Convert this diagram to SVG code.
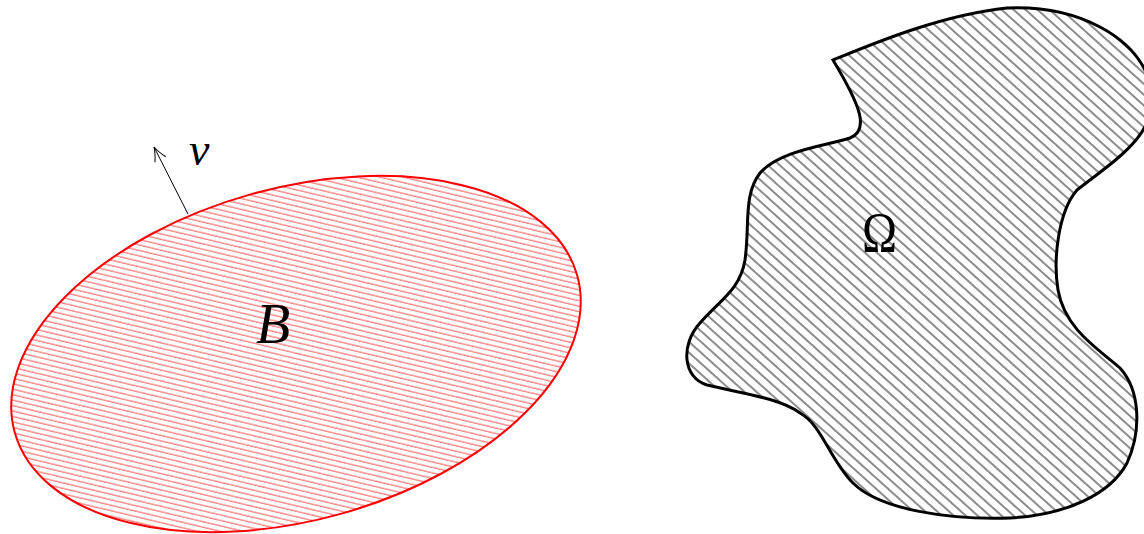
<svg xmlns="http://www.w3.org/2000/svg" width="1144" height="534" viewBox="0 0 1144 534">
<style>
.lbl{font-family:"Liberation Serif","Times New Roman",serif;fill:#000}
.it{font-style:italic}
</style>
<defs>
<pattern id="hatchRed" width="10" height="5.3" patternUnits="userSpaceOnUse" patternTransform="rotate(29)">
<line x1="0" y1="1" x2="10" y2="1" stroke="#ff0000" stroke-width="0.9" stroke-opacity="0.75"/>
</pattern>
<pattern id="hatchBlack" width="10" height="8" patternUnits="userSpaceOnUse" patternTransform="rotate(42)">
<line x1="0" y1="1" x2="10" y2="1" stroke="#000" stroke-width="1" stroke-opacity="0.9"/>
</pattern>
<marker id="arrowOpen" markerUnits="userSpaceOnUse" viewBox="-15 -8 17 16" refX="0" refY="0" markerWidth="17" markerHeight="16" orient="auto">
<path d="M -14 -6 Q -6 -1.5 0 0 Q -6 1.5 -14 6" fill="none" stroke="#000" stroke-width="1"/>
</marker>
</defs>
<g id="nodeB">
<ellipse cx="296" cy="354" rx="292" ry="166" transform="rotate(-15.6 296 354)" fill="url(#hatchRed)" stroke="#ff0000" stroke-width="2"/>
<text class="lbl it" x="256" y="343" font-size="56">B</text>
</g>
<g id="nodeOmega">
<path d="M 833 60 C 870 45, 940 15, 1007 8 C 1075 5, 1140 35, 1152 90 C 1158 135, 1115 160, 1077 190 C 1058 212, 1053 260, 1058 290 C 1065 330, 1100 350, 1120 368 C 1140 390, 1142 430, 1127 463 C 1110 495, 1065 515, 1010 518 C 950 520, 880 510, 853 483 C 830 460, 822 425, 800 413 C 780 398, 740 393, 707 385 C 683 378, 680 345, 700 323 C 720 300, 740 290, 745 260 C 750 225, 743 195, 760 173 C 780 150, 830 145, 850 138 C 870 130, 860 105, 833 60 Z" fill="url(#hatchBlack)" stroke="#000" stroke-width="3" stroke-linejoin="miter"/>
<text class="lbl" x="862" y="252" font-size="56" textLength="35" lengthAdjust="spacingAndGlyphs">Ω</text>
</g>
<g id="connectors">
<line x1="188" y1="214" x2="154" y2="147" stroke="#000" stroke-width="1" marker-end="url(#arrowOpen)"/>
</g>
<g id="labelNu">
<text class="lbl it" x="189" y="165" font-size="46">ν</text>
</g>
</svg>
